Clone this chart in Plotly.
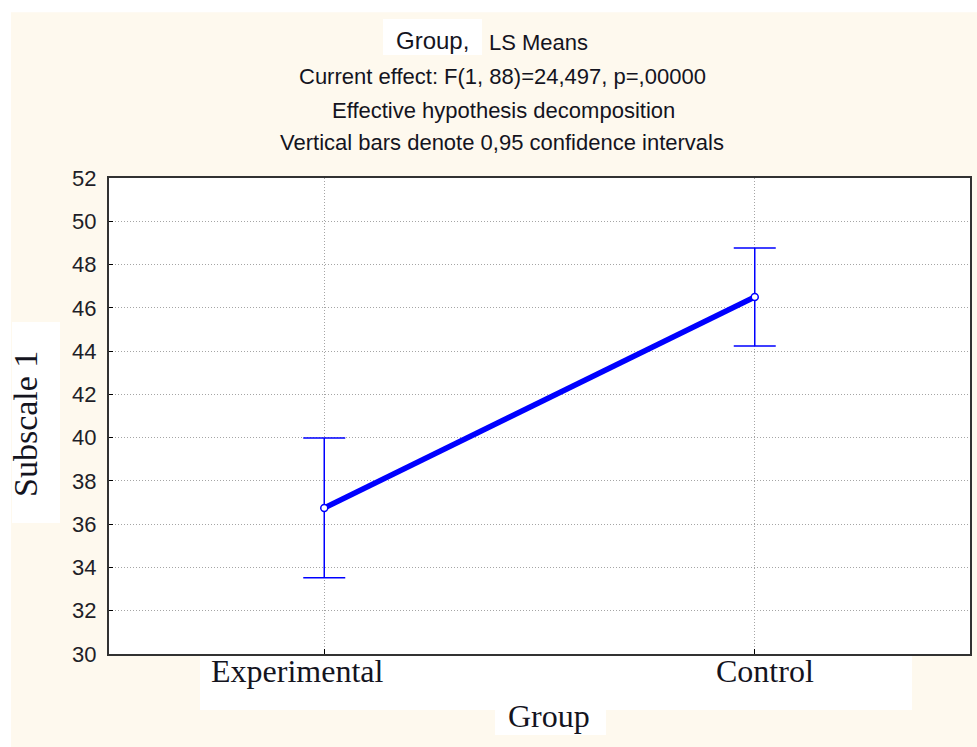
import plotly.graph_objects as go

groups = ['Experimental', 'Control']
means = [36.75, 46.5]
ci_upper = [39.98, 48.77]
ci_lower = [33.52, 44.24]
y_ticks = list(range(30, 53, 2))

x_pos = list(range(len(groups)))
err_plus = [u - m for u, m in zip(ci_upper, means)]
err_minus = [m - l for m, l in zip(means, ci_lower)]

BEIGE = 'rgb(254,249,238)'
BLUE = 'rgb(0,0,255)'

fig = go.Figure(
    layout={
        'width': 977,
        'height': 747,
        'paper_bgcolor': BEIGE,
        'plot_bgcolor': 'white',
        'showlegend': False,
        'margin': {'l': 109, 'r': 7, 't': 178, 'b': 93, 'autoexpand': False},
    }
)

fig.add_trace(go.Scatter(
    x=x_pos, y=means,
    mode='lines+markers',
    line=dict(color=BLUE, width=5.5),
    marker=dict(size=7, color='white', line=dict(color=BLUE, width=1.5)),
    error_y=dict(type='data', symmetric=False, array=err_plus, arrayminus=err_minus,
                 color=BLUE, thickness=1.5, width=21),
))

fig.update_xaxes(
    range=[-0.5, 1.5], tickvals=x_pos, showticklabels=False,
    showgrid=True, gridcolor='rgb(165,165,165)', griddash='1px,2px', gridwidth=1,
    ticks='inside', ticklen=5, tickcolor='black',
    showline=True, mirror=True, linecolor='rgb(50,50,50)', linewidth=2,
    zeroline=False,
)
fig.update_yaxes(
    range=[30, 52], tickvals=y_ticks,
    showgrid=True, gridcolor='rgb(165,165,165)', griddash='1px,2px', gridwidth=1,
    ticks='inside', ticklen=4, tickcolor='black',
    showline=True, mirror=True, linecolor='rgb(50,50,50)', linewidth=2,
    zeroline=False,
    tickfont=dict(family='Liberation Sans, Arial', size=22, color='rgb(30,30,40)'),
    ticklabelstandoff=6,
)

# white strips at top/left edge and white label boxes
fig.add_shape(type='rect', xref='paper', yref='paper', x0=-0.2, x1=1.1, y0=1.348, y1=1.5,
              fillcolor='white', line_width=0, layer='below')
fig.add_shape(type='rect', xref='paper', yref='paper', x0=-0.2, x1=(11 - 109) / 861, y0=-0.3, y1=1.5,
              fillcolor='white', line_width=0, layer='below')
boxes = [
    (383, 482, 19, 55),     # title "Group,"
    (12, 60, 322, 523),     # y label
    (200, 912, 656, 710),   # x tick labels
    (495, 606, 710, 735),   # x title
]
for x0, x1, y0, y1 in boxes:
    fig.add_shape(type='rect', xref='paper', yref='paper',
                  x0=(x0 - 109) / 861, x1=(x1 - 109) / 861,
                  y0=(654 - y1) / 476, y1=(654 - y0) / 476,
                  fillcolor='white', line_width=0, layer='below')

sans = 'Liberation Sans, Arial'
serif = 'Liberation Serif, Times New Roman'
ink = 'rgb(20,20,30)'

def px_ann(text, x, y, size, family=sans, **kw):
    fig.add_annotation(text=text, xref='paper', yref='paper',
                       x=(x - 109) / 861, y=(654 - y) / 476,
                       xanchor='center', yanchor='middle',
                       showarrow=False, font=dict(family=family, size=size, color=ink), **kw)

px_ann('Group,', 432, 41, 24)
px_ann('LS Means', 538, 43, 22)
px_ann('Current effect: F(1, 88)=24,497, p=,00000', 502, 76, 22)
px_ann('Effective hypothesis decomposition', 503, 110, 22)
px_ann('Vertical bars denote 0,95 confidence intervals', 502, 142, 22)
px_ann('Group', 549, 716, 32, family=serif)
px_ann('Subscale 1', 25, 424, 34, family=serif, textangle=-90)

tick_shift = [-27, 10]
for xp, name, sh in zip(x_pos, groups, tick_shift):
    fig.add_annotation(text=name, x=xp, y=(654 - 671) / 476, xref='x', yref='paper',
                       xshift=sh, xanchor='center', yanchor='middle', showarrow=False,
                       font=dict(family=serif, size=32, color=ink))

fig.write_html("out.html", config={'displayModeBar': False},
               post_script="document.body.style.margin='0';")
